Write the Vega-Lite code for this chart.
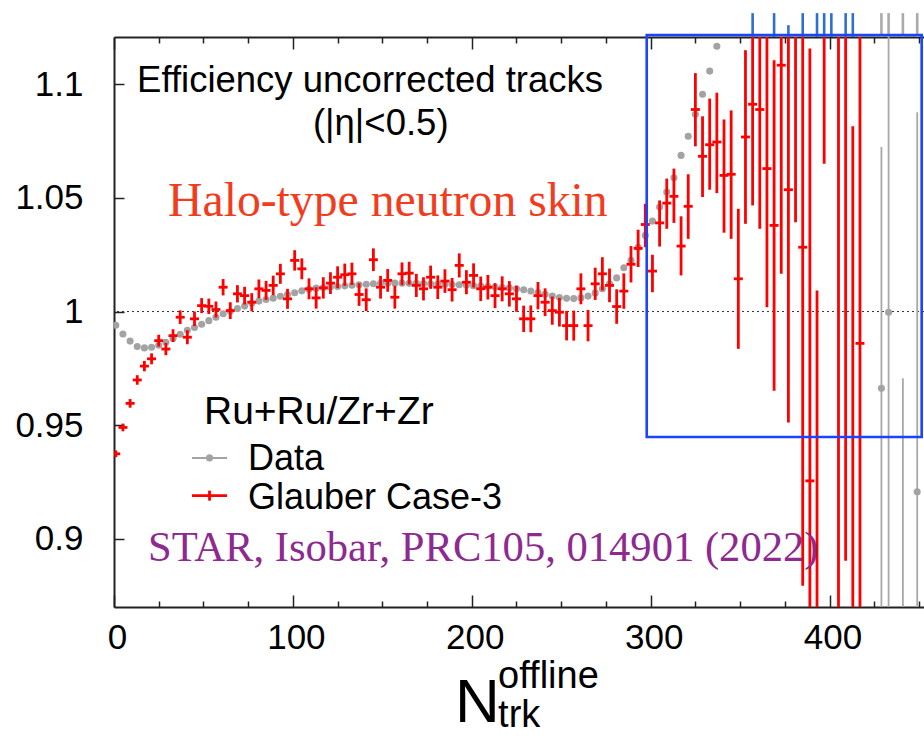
{
  "$schema": "https://vega.github.io/schema/vega-lite/v6.json",
  "width": 810,
  "height": 570,
  "autosize": "none",
  "padding": {"left": 114, "top": 37, "right": 0, "bottom": 129},
  "background": "white",
  "config": {"view": {"stroke": null}, "font": "Liberation Sans"},
  "datasets": {
    "data": [
      {"x": 1, "y": 0.9940}, {"x": 5, "y": 0.9901}, {"x": 9, "y": 0.9870}, {"x": 13, "y": 0.9846}, {"x": 17, "y": 0.9840},
      {"x": 21, "y": 0.9843}, {"x": 25, "y": 0.9852}, {"x": 29, "y": 0.9865}, {"x": 33, "y": 0.9881}, {"x": 37, "y": 0.9900},
      {"x": 41, "y": 0.9918}, {"x": 45, "y": 0.9930}, {"x": 49, "y": 0.9944}, {"x": 53, "y": 0.9960}, {"x": 57, "y": 0.9975},
      {"x": 61, "y": 0.9990}, {"x": 65, "y": 1.0001}, {"x": 69, "y": 1.0013}, {"x": 73, "y": 1.0024}, {"x": 77, "y": 1.0036},
      {"x": 81, "y": 1.0046}, {"x": 85, "y": 1.0053}, {"x": 89, "y": 1.0059}, {"x": 93, "y": 1.0067}, {"x": 97, "y": 1.0075},
      {"x": 101, "y": 1.0083}, {"x": 105, "y": 1.0091}, {"x": 109, "y": 1.0098}, {"x": 113, "y": 1.0103}, {"x": 117, "y": 1.0106},
      {"x": 121, "y": 1.0108}, {"x": 125, "y": 1.0110}, {"x": 129, "y": 1.0113}, {"x": 133, "y": 1.0116}, {"x": 137, "y": 1.0118},
      {"x": 141, "y": 1.0120}, {"x": 145, "y": 1.0122}, {"x": 149, "y": 1.0124}, {"x": 153, "y": 1.0125}, {"x": 157, "y": 1.0125},
      {"x": 161, "y": 1.0125}, {"x": 165, "y": 1.0124}, {"x": 169, "y": 1.0124}, {"x": 173, "y": 1.0123}, {"x": 177, "y": 1.0122},
      {"x": 181, "y": 1.0121}, {"x": 185, "y": 1.0120}, {"x": 189, "y": 1.0119}, {"x": 193, "y": 1.0118}, {"x": 197, "y": 1.0116},
      {"x": 201, "y": 1.0114}, {"x": 205, "y": 1.0112}, {"x": 209, "y": 1.0110}, {"x": 213, "y": 1.0108}, {"x": 217, "y": 1.0106},
      {"x": 221, "y": 1.0104}, {"x": 225, "y": 1.0100}, {"x": 229, "y": 1.0096}, {"x": 233, "y": 1.0090}, {"x": 237, "y": 1.0084},
      {"x": 241, "y": 1.0076}, {"x": 245, "y": 1.0068}, {"x": 249, "y": 1.0062}, {"x": 253, "y": 1.0058}, {"x": 257, "y": 1.0057},
      {"x": 261, "y": 1.0060}, {"x": 265, "y": 1.0068}, {"x": 269, "y": 1.0082}, {"x": 273, "y": 1.0100}, {"x": 277, "y": 1.0122},
      {"x": 281, "y": 1.0148}, {"x": 285, "y": 1.0193}, {"x": 289, "y": 1.0225}, {"x": 293, "y": 1.0283}, {"x": 297, "y": 1.0335},
      {"x": 301, "y": 1.0398}, {"x": 305, "y": 1.0460}, {"x": 309, "y": 1.0526}, {"x": 313, "y": 1.0589}, {"x": 317, "y": 1.0687},
      {"x": 321, "y": 1.0771}, {"x": 325, "y": 1.0868}, {"x": 329, "y": 1.0956}, {"x": 333, "y": 1.1058}, {"x": 337, "y": 1.1167}
    ],
    "dataTail": [
      {"x": 429, "y": 0.9662, "lo": 0.8600, "hi": 1.0724},
      {"x": 433, "y": 0.9997, "lo": 0.8000, "hi": 1.2000},
      {"x": 441, "y": 0.8500, "lo": 0.7300, "hi": 0.9706},
      {"x": 449, "y": 0.9207, "lo": 0.7537, "hi": 1.0877}
    ],
    "glauber": [
      {"x": 1, "y": 0.9374, "lo": 0.9359, "hi": 0.9389}, {"x": 5, "y": 0.9490, "lo": 0.9473, "hi": 0.9507},
      {"x": 9, "y": 0.9596, "lo": 0.9577, "hi": 0.9615}, {"x": 13, "y": 0.9699, "lo": 0.9678, "hi": 0.9720},
      {"x": 17, "y": 0.9760, "lo": 0.9737, "hi": 0.9783}, {"x": 21, "y": 0.9792, "lo": 0.9768, "hi": 0.9816},
      {"x": 25, "y": 0.9872, "lo": 0.9846, "hi": 0.9898}, {"x": 29, "y": 0.9835, "lo": 0.9808, "hi": 0.9862},
      {"x": 33, "y": 0.9894, "lo": 0.9866, "hi": 0.9922}, {"x": 37, "y": 0.9975, "lo": 0.9945, "hi": 1.0005},
      {"x": 41, "y": 0.9887, "lo": 0.9856, "hi": 0.9918}, {"x": 45, "y": 0.9968, "lo": 0.9936, "hi": 1.0000},
      {"x": 49, "y": 1.0026, "lo": 0.9993, "hi": 1.0059}, {"x": 53, "y": 1.0023, "lo": 0.9989, "hi": 1.0057},
      {"x": 57, "y": 1.0009, "lo": 0.9974, "hi": 1.0044}, {"x": 61, "y": 1.0107, "lo": 1.0071, "hi": 1.0143},
      {"x": 65, "y": 1.0004, "lo": 0.9967, "hi": 1.0041}, {"x": 69, "y": 1.0078, "lo": 1.0040, "hi": 1.0116},
      {"x": 73, "y": 1.0070, "lo": 1.0031, "hi": 1.0109}, {"x": 77, "y": 1.0041, "lo": 1.0001, "hi": 1.0081},
      {"x": 81, "y": 1.0100, "lo": 1.0059, "hi": 1.0141}, {"x": 85, "y": 1.0093, "lo": 1.0051, "hi": 1.0135},
      {"x": 89, "y": 1.0115, "lo": 1.0072, "hi": 1.0158}, {"x": 93, "y": 1.0166, "lo": 1.0122, "hi": 1.0210},
      {"x": 97, "y": 1.0056, "lo": 1.0012, "hi": 1.0100}, {"x": 101, "y": 1.0225, "lo": 1.0180, "hi": 1.0270},
      {"x": 105, "y": 1.0188, "lo": 1.0142, "hi": 1.0234}, {"x": 109, "y": 1.0100, "lo": 1.0054, "hi": 1.0146},
      {"x": 113, "y": 1.0060, "lo": 1.0013, "hi": 1.0107}, {"x": 117, "y": 1.0104, "lo": 1.0057, "hi": 1.0151},
      {"x": 121, "y": 1.0125, "lo": 1.0077, "hi": 1.0173}, {"x": 125, "y": 1.0151, "lo": 1.0103, "hi": 1.0199},
      {"x": 129, "y": 1.0162, "lo": 1.0113, "hi": 1.0211}, {"x": 133, "y": 1.0166, "lo": 1.0117, "hi": 1.0215},
      {"x": 137, "y": 1.0075, "lo": 1.0025, "hi": 1.0125}, {"x": 141, "y": 1.0052, "lo": 1.0002, "hi": 1.0102},
      {"x": 145, "y": 1.0228, "lo": 1.0178, "hi": 1.0278}, {"x": 149, "y": 1.0107, "lo": 1.0057, "hi": 1.0157},
      {"x": 153, "y": 1.0137, "lo": 1.0087, "hi": 1.0187}, {"x": 157, "y": 1.0063, "lo": 1.0013, "hi": 1.0113},
      {"x": 161, "y": 1.0166, "lo": 1.0116, "hi": 1.0216}, {"x": 165, "y": 1.0169, "lo": 1.0119, "hi": 1.0219},
      {"x": 169, "y": 1.0115, "lo": 1.0064, "hi": 1.0166}, {"x": 173, "y": 1.0100, "lo": 1.0049, "hi": 1.0151},
      {"x": 177, "y": 1.0151, "lo": 1.0100, "hi": 1.0202}, {"x": 181, "y": 1.0107, "lo": 1.0055, "hi": 1.0159},
      {"x": 185, "y": 1.0134, "lo": 1.0082, "hi": 1.0186}, {"x": 189, "y": 1.0096, "lo": 1.0044, "hi": 1.0148},
      {"x": 193, "y": 1.0203, "lo": 1.0150, "hi": 1.0256}, {"x": 197, "y": 1.0129, "lo": 1.0076, "hi": 1.0182},
      {"x": 201, "y": 1.0159, "lo": 1.0106, "hi": 1.0212}, {"x": 205, "y": 1.0100, "lo": 1.0046, "hi": 1.0154},
      {"x": 209, "y": 1.0107, "lo": 1.0053, "hi": 1.0161}, {"x": 213, "y": 1.0070, "lo": 1.0015, "hi": 1.0125},
      {"x": 217, "y": 1.0100, "lo": 1.0045, "hi": 1.0155}, {"x": 221, "y": 1.0078, "lo": 1.0022, "hi": 1.0134},
      {"x": 225, "y": 1.0056, "lo": 0.9999, "hi": 1.0113}, {"x": 229, "y": 0.9968, "lo": 0.9910, "hi": 1.0026},
      {"x": 233, "y": 0.9968, "lo": 0.9909, "hi": 1.0027}, {"x": 237, "y": 1.0070, "lo": 1.0010, "hi": 1.0130},
      {"x": 241, "y": 1.0041, "lo": 0.9980, "hi": 1.0102}, {"x": 245, "y": 1.0004, "lo": 0.9942, "hi": 1.0066},
      {"x": 249, "y": 0.9997, "lo": 0.9934, "hi": 1.0060}, {"x": 253, "y": 0.9938, "lo": 0.9873, "hi": 1.0003},
      {"x": 257, "y": 0.9938, "lo": 0.9872, "hi": 1.0004}, {"x": 261, "y": 1.0100, "lo": 1.0032, "hi": 1.0168},
      {"x": 265, "y": 0.9938, "lo": 0.9869, "hi": 1.0007}, {"x": 269, "y": 1.0122, "lo": 1.0051, "hi": 1.0193},
      {"x": 273, "y": 1.0166, "lo": 1.0093, "hi": 1.0239}, {"x": 277, "y": 1.0115, "lo": 1.0041, "hi": 1.0189},
      {"x": 281, "y": 1.0022, "lo": 0.9946, "hi": 1.0098}, {"x": 285, "y": 1.0090, "lo": 1.0012, "hi": 1.0168},
      {"x": 289, "y": 1.0208, "lo": 1.0128, "hi": 1.0288}, {"x": 293, "y": 1.0278, "lo": 1.0196, "hi": 1.0360},
      {"x": 297, "y": 1.0383, "lo": 1.0283, "hi": 1.0474}, {"x": 301, "y": 1.0178, "lo": 1.0085, "hi": 1.0250},
      {"x": 305, "y": 1.0390, "lo": 1.0286, "hi": 1.0489}, {"x": 309, "y": 1.0477, "lo": 1.0364, "hi": 1.0585},
      {"x": 313, "y": 1.0507, "lo": 1.0390, "hi": 1.0629}, {"x": 317, "y": 1.0288, "lo": 1.0159, "hi": 1.0419},
      {"x": 321, "y": 1.0463, "lo": 1.0320, "hi": 1.0604}, {"x": 325, "y": 1.0889, "lo": 1.0727, "hi": 1.1049},
      {"x": 329, "y": 1.0683, "lo": 1.0504, "hi": 1.0859}, {"x": 333, "y": 1.0734, "lo": 1.0536, "hi": 1.0937},
      {"x": 337, "y": 1.0746, "lo": 1.0521, "hi": 1.0963}, {"x": 341, "y": 1.0599, "lo": 1.0347, "hi": 1.0845},
      {"x": 345, "y": 1.0604, "lo": 1.0320, "hi": 1.0885}, {"x": 349, "y": 1.0144, "lo": 0.9836, "hi": 1.0452},
      {"x": 353, "y": 1.0768, "lo": 1.0386, "hi": 1.1150}, {"x": 357, "y": 1.0912, "lo": 1.0467, "hi": 1.1357},
      {"x": 361, "y": 1.0889, "lo": 1.0364, "hi": 1.1414}, {"x": 365, "y": 1.0629, "lo": 1.0019, "hi": 1.1239},
      {"x": 369, "y": 1.0379, "lo": 0.9652, "hi": 1.1106}, {"x": 373, "y": 1.1084, "lo": 1.0166, "hi": 1.2002},
      {"x": 377, "y": 1.0536, "lo": 0.9512, "hi": 1.1560}, {"x": 381, "y": 1.1300, "lo": 1.0393, "hi": 1.2207},
      {"x": 385, "y": 1.0283, "lo": 0.8793, "hi": 1.1773}, {"x": 389, "y": 0.9255, "lo": 0.7353, "hi": 1.1157},
      {"x": 393, "y": 0.8500, "lo": 0.6907, "hi": 1.0093}, {"x": 397, "y": 1.1400, "lo": 1.0650, "hi": 1.2150},
      {"x": 405, "y": 1.1600, "lo": 0.8600, "hi": 1.4600}, {"x": 409, "y": 1.1400, "lo": 0.8903, "hi": 1.3897},
      {"x": 413, "y": 0.8500, "lo": 0.6185, "hi": 1.0815}, {"x": 417, "y": 0.9860, "lo": 0.7860, "hi": 1.1860}
    ],
    "upper": [
      {"x": 357, "lo": 1.1208, "hi": 1.1313, "series": "model"},
      {"x": 369, "lo": 1.1208, "hi": 1.1313, "series": "model"},
      {"x": 377, "lo": 1.1208, "hi": 1.1260, "series": "model"},
      {"x": 385, "lo": 1.1208, "hi": 1.1313, "series": "model"},
      {"x": 393, "lo": 1.1208, "hi": 1.1313, "series": "model"},
      {"x": 397, "lo": 1.1208, "hi": 1.1313, "series": "model"},
      {"x": 401, "lo": 1.1208, "hi": 1.1313, "series": "model"},
      {"x": 409, "lo": 1.1208, "hi": 1.1313, "series": "model"},
      {"x": 413, "lo": 1.1208, "hi": 1.1313, "series": "model"},
      {"x": 429, "lo": 1.1208, "hi": 1.1313, "series": "data"},
      {"x": 433, "lo": 1.1208, "hi": 1.1313, "series": "data"},
      {"x": 441, "lo": 1.1208, "hi": 1.1313, "series": "data"},
      {"x": 449, "lo": 1.1208, "hi": 1.1313, "series": "data"}
    ],
    "one": [{}]
  },
  "layer": [
    {
      "data": {"name": "one"},
      "mark": {"type": "rule", "color": "#333333", "strokeWidth": 1, "strokeDash": [2, 3]},
      "encoding": {
        "y": {"datum": 1, "type": "quantitative", "scale": {"domain": [0.87, 1.1208], "nice": false, "zero": false}, "axis": null}
      }
    },
    {
      "data": {"name": "data"},
      "mark": {"type": "circle", "size": 50, "color": "#a3a3a3", "opacity": 1, "clip": true},
      "encoding": {
        "x": {
          "field": "x", "type": "quantitative",
          "scale": {"domain": [0, 452.8], "nice": false, "zero": false},
          "axis": {
            "orient": "bottom", "title": null, "grid": false,
            "values": [0, 100, 200, 300, 400],
            "tickSize": -12,
            "labelFont": "Liberation Sans", "labelFontSize": 35, "labelColor": "#000000",
            "labelPadding": 25, "labelOffset": 3, "labelFlush": false, "labelOverlap": false,
            "domainColor": "#222222", "domainWidth": 2, "tickColor": "#222222", "tickWidth": 1.5
          }
        },
        "y": {
          "field": "y", "type": "quantitative",
          "scale": {"domain": [0.87, 1.1208], "nice": false, "zero": false},
          "axis": {
            "orient": "left", "title": null, "grid": false,
            "values": [0.9, 0.95, 1, 1.05, 1.1], "format": "~g",
            "tickSize": -10, "labelPadding": 41,
            "labelFont": "Liberation Sans", "labelFontSize": 35, "labelColor": "#000000",
            "labelFlush": false, "labelOverlap": false,
            "domainColor": "#222222", "domainWidth": 2, "tickColor": "#222222", "tickWidth": 1.5
          }
        }
      }
    },
    {
      "data": {"name": "dataTail"},
      "mark": {"type": "rule", "color": "#a8a8a8", "strokeWidth": 1.8, "clip": true},
      "encoding": {
        "x": {
          "field": "x", "type": "quantitative", "scale": {"domain": [0, 452.8], "nice": false, "zero": false},
          "axis": {
            "orient": "top", "title": null, "grid": false, "labels": false, "domain": false,
            "values": [25, 50, 75, 125, 150, 175, 225, 250, 275, 325, 350, 375, 425, 450],
            "tickSize": -6, "tickColor": "#222222", "tickWidth": 1.5
          }
        },
        "y": {"field": "lo", "type": "quantitative", "scale": {"domain": [0.87, 1.1208], "nice": false, "zero": false}, "axis": null},
        "y2": {"field": "hi"}
      }
    },
    {
      "data": {"name": "dataTail"},
      "mark": {"type": "circle", "size": 50, "color": "#a3a3a3", "opacity": 1, "clip": true},
      "encoding": {
        "x": {"field": "x", "type": "quantitative", "scale": {"domain": [0, 452.8], "nice": false, "zero": false}, "axis": null},
        "y": {"field": "y", "type": "quantitative", "scale": {"domain": [0.87, 1.1208], "nice": false, "zero": false}, "axis": null}
      }
    },
    {
      "data": {"name": "glauber"},
      "mark": {"type": "rule", "color": "#ff0000", "strokeWidth": 2.8, "clip": true},
      "encoding": {
        "x": {
          "field": "x", "type": "quantitative", "scale": {"domain": [0, 452.8], "nice": false, "zero": false},
          "axis": {
            "orient": "bottom", "title": null, "grid": false, "labels": false, "domain": false,
            "values": [25, 50, 75, 125, 150, 175, 225, 250, 275, 325, 350, 375, 425, 450],
            "tickSize": -6, "tickColor": "#222222", "tickWidth": 1.5
          }
        },
        "y": {"field": "lo", "type": "quantitative", "scale": {"domain": [0.87, 1.1208], "nice": false, "zero": false}, "axis": null},
        "y2": {"field": "hi"}
      }
    },
    {
      "data": {"name": "glauber"},
      "mark": {"type": "tick", "orient": "horizontal", "size": 9, "thickness": 2.8, "color": "#ff0000", "opacity": 1, "clip": true},
      "encoding": {
        "x": {
          "field": "x", "type": "quantitative",
          "scale": {"domain": [0, 452.8], "nice": false, "zero": false},
          "axis": {
            "orient": "top", "title": null, "grid": false, "labels": false,
            "values": [0, 100, 200, 300, 400],
            "tickSize": -12,
            "domainColor": "#222222", "domainWidth": 2, "tickColor": "#222222", "tickWidth": 1.5
          }
        },
        "y": {"field": "y", "type": "quantitative", "scale": {"domain": [0.87, 1.1208], "nice": false, "zero": false}, "axis": null}
      }
    },
    {
      "data": {"name": "upper"},
      "mark": {"type": "rule", "strokeWidth": 2.6, "clip": false},
      "encoding": {
        "x": {"field": "x", "type": "quantitative", "scale": {"domain": [0, 452.8], "nice": false, "zero": false}, "axis": null},
        "y": {"field": "lo", "type": "quantitative", "scale": {"domain": [0.87, 1.1208], "nice": false, "zero": false}, "axis": null},
        "y2": {"field": "hi"},
        "color": {"field": "series", "type": "nominal", "scale": {"domain": ["model", "data"], "range": ["#2f6fcf", "#aaaaaa"]}, "legend": null}
      }
    },
    {
      "data": {"name": "one"},
      "mark": {"type": "rect", "fill": "transparent", "stroke": "#1a44ff", "strokeWidth": 2.6, "clip": false},
      "encoding": {
        "x": {"datum": 297.8, "type": "quantitative", "scale": {"domain": [0, 452.8], "nice": false, "zero": false}, "axis": null},
        "x2": {"datum": 451.5},
        "y": {"datum": 1.1217, "type": "quantitative", "scale": {"domain": [0.87, 1.1208], "nice": false, "zero": false}, "axis": null},
        "y2": {"datum": 0.9448}
      }
    },
    {
      "data": {"name": "one"},
      "mark": {"type": "text", "text": "Efficiency uncorrected tracks", "font": "Liberation Sans", "fontSize": 36.5, "align": "left", "baseline": "alphabetic", "color": "#000000"},
      "encoding": {
        "x": {"datum": 12.9, "type": "quantitative", "scale": {"domain": [0, 452.8], "nice": false, "zero": false}, "axis": null},
        "y": {"datum": 1.0968, "type": "quantitative", "scale": {"domain": [0.87, 1.1208], "nice": false, "zero": false}, "axis": null}
      }
    },
    {
      "data": {"name": "one"},
      "mark": {"type": "text", "text": "(|η|<0.5)", "font": "Liberation Sans", "fontSize": 36.5, "align": "left", "baseline": "alphabetic", "color": "#000000"},
      "encoding": {
        "x": {"datum": 111.2, "type": "quantitative", "scale": {"domain": [0, 452.8], "nice": false, "zero": false}, "axis": null},
        "y": {"datum": 1.0776, "type": "quantitative", "scale": {"domain": [0.87, 1.1208], "nice": false, "zero": false}, "axis": null}
      }
    },
    {
      "data": {"name": "one"},
      "mark": {"type": "text", "text": "Halo-type neutron skin", "font": "Liberation Serif", "fontSize": 47.7, "align": "left", "baseline": "alphabetic", "color": "#f23c1e"},
      "encoding": {
        "x": {"datum": 30.2, "type": "quantitative", "scale": {"domain": [0, 452.8], "nice": false, "zero": false}, "axis": null},
        "y": {"datum": 1.0420, "type": "quantitative", "scale": {"domain": [0.87, 1.1208], "nice": false, "zero": false}, "axis": null}
      }
    },
    {
      "data": {"name": "one"},
      "mark": {"type": "text", "text": "Ru+Ru/Zr+Zr", "font": "Liberation Sans", "fontSize": 39, "align": "left", "baseline": "alphabetic", "color": "#000000"},
      "encoding": {
        "x": {"datum": 50.3, "type": "quantitative", "scale": {"domain": [0, 452.8], "nice": false, "zero": false}, "axis": null},
        "y": {"datum": 0.9506, "type": "quantitative", "scale": {"domain": [0.87, 1.1208], "nice": false, "zero": false}, "axis": null}
      }
    },
    {
      "data": {"name": "one"},
      "mark": {"type": "rule", "color": "#a3a3a3", "strokeWidth": 2},
      "encoding": {
        "x": {"datum": 43.6, "type": "quantitative", "scale": {"domain": [0, 452.8], "nice": false, "zero": false}, "axis": null},
        "x2": {"datum": 63.2},
        "y": {"datum": 0.9356, "type": "quantitative", "scale": {"domain": [0.87, 1.1208], "nice": false, "zero": false}, "axis": null}
      }
    },
    {
      "data": {"name": "one"},
      "mark": {"type": "circle", "size": 50, "color": "#a3a3a3", "opacity": 1},
      "encoding": {
        "x": {"datum": 53.4, "type": "quantitative", "scale": {"domain": [0, 452.8], "nice": false, "zero": false}, "axis": null},
        "y": {"datum": 0.9356, "type": "quantitative", "scale": {"domain": [0.87, 1.1208], "nice": false, "zero": false}, "axis": null}
      }
    },
    {
      "data": {"name": "one"},
      "mark": {"type": "text", "text": "Data", "font": "Liberation Sans", "fontSize": 36, "align": "left", "baseline": "alphabetic", "color": "#000000"},
      "encoding": {
        "x": {"datum": 74.9, "type": "quantitative", "scale": {"domain": [0, 452.8], "nice": false, "zero": false}, "axis": null},
        "y": {"datum": 0.9303, "type": "quantitative", "scale": {"domain": [0.87, 1.1208], "nice": false, "zero": false}, "axis": null}
      }
    },
    {
      "data": {"name": "one"},
      "mark": {"type": "rule", "color": "#ff0000", "strokeWidth": 2.8},
      "encoding": {
        "x": {"datum": 43.6, "type": "quantitative", "scale": {"domain": [0, 452.8], "nice": false, "zero": false}, "axis": null},
        "x2": {"datum": 63.2},
        "y": {"datum": 0.9190, "type": "quantitative", "scale": {"domain": [0.87, 1.1208], "nice": false, "zero": false}, "axis": null}
      }
    },
    {
      "data": {"name": "one"},
      "mark": {"type": "rule", "color": "#ff0000", "strokeWidth": 2.8},
      "encoding": {
        "x": {"datum": 53.4, "type": "quantitative", "scale": {"domain": [0, 452.8], "nice": false, "zero": false}, "axis": null},
        "y": {"datum": 0.9168, "type": "quantitative", "scale": {"domain": [0.87, 1.1208], "nice": false, "zero": false}, "axis": null},
        "y2": {"datum": 0.9212}
      }
    },
    {
      "data": {"name": "one"},
      "mark": {"type": "text", "text": "Glauber Case-3", "font": "Liberation Sans", "fontSize": 36, "align": "left", "baseline": "alphabetic", "color": "#000000"},
      "encoding": {
        "x": {"datum": 74.9, "type": "quantitative", "scale": {"domain": [0, 452.8], "nice": false, "zero": false}, "axis": null},
        "y": {"datum": 0.9130, "type": "quantitative", "scale": {"domain": [0.87, 1.1208], "nice": false, "zero": false}, "axis": null}
      }
    },
    {
      "data": {"name": "one"},
      "mark": {"type": "text", "text": "STAR, Isobar, PRC105, 014901 (2022)", "font": "Liberation Serif", "fontSize": 42.6, "align": "left", "baseline": "alphabetic", "color": "#8e2a8f"},
      "encoding": {
        "x": {"datum": 19.0, "type": "quantitative", "scale": {"domain": [0, 452.8], "nice": false, "zero": false}, "axis": null},
        "y": {"datum": 0.8902, "type": "quantitative", "scale": {"domain": [0.87, 1.1208], "nice": false, "zero": false}, "axis": null}
      }
    },
    {
      "data": {"name": "one"},
      "mark": {"type": "text", "text": "N", "font": "Liberation Sans", "fontSize": 62, "align": "left", "baseline": "alphabetic", "color": "#000000"},
      "encoding": {
        "x": {"datum": 190.6, "type": "quantitative", "scale": {"domain": [0, 452.8], "nice": false, "zero": false}, "axis": null},
        "y": {"datum": 0.8195, "type": "quantitative", "scale": {"domain": [0.87, 1.1208], "nice": false, "zero": false}, "axis": null}
      }
    },
    {
      "data": {"name": "one"},
      "mark": {"type": "text", "text": "offline", "font": "Liberation Sans", "fontSize": 38, "align": "left", "baseline": "alphabetic", "color": "#000000"},
      "encoding": {
        "x": {"datum": 214.7, "type": "quantitative", "scale": {"domain": [0, 452.8], "nice": false, "zero": false}, "axis": null},
        "y": {"datum": 0.8344, "type": "quantitative", "scale": {"domain": [0.87, 1.1208], "nice": false, "zero": false}, "axis": null}
      }
    },
    {
      "data": {"name": "one"},
      "mark": {"type": "text", "text": "trk", "font": "Liberation Sans", "fontSize": 38, "align": "left", "baseline": "alphabetic", "color": "#000000"},
      "encoding": {
        "x": {"datum": 214.7, "type": "quantitative", "scale": {"domain": [0, 452.8], "nice": false, "zero": false}, "axis": null},
        "y": {"datum": 0.8174, "type": "quantitative", "scale": {"domain": [0.87, 1.1208], "nice": false, "zero": false}, "axis": null}
      }
    }
  ],
  "resolve": {"axis": {"x": "independent", "y": "independent"}}
}
